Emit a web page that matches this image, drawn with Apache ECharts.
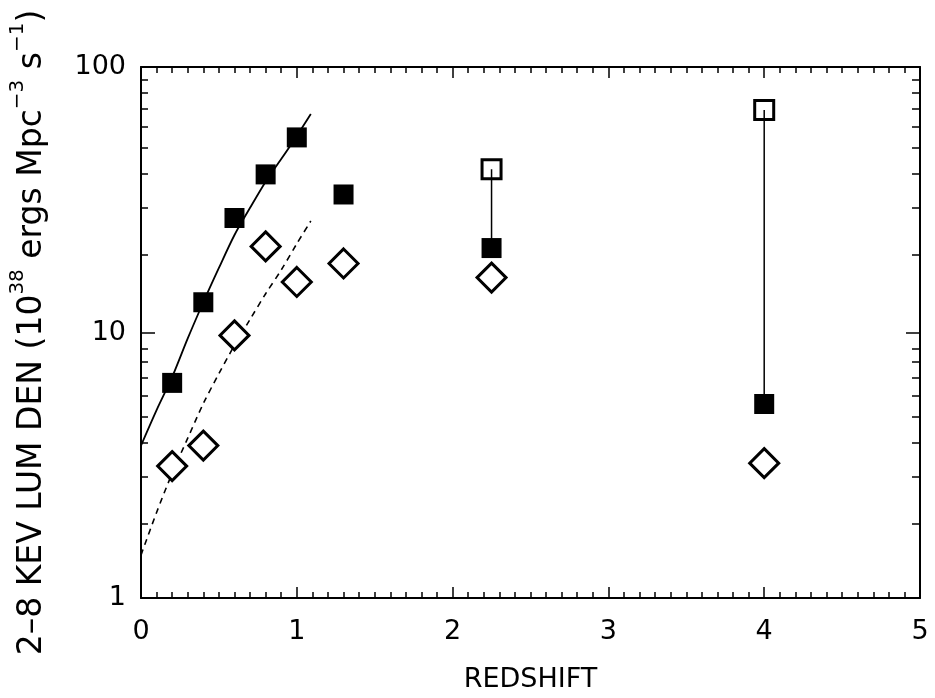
<!DOCTYPE html>
<html>
<head>
<meta charset="utf-8">
<script src="https://cdn.jsdelivr.net/npm/echarts@6/dist/echarts.min.js"></script>
<style>
html,body{margin:0;padding:0;background:#fff;}
#chart{width:935px;height:698px;}
</style>
</head>
<body>
<div id="chart"></div>
<script>
// ---- data ----
const zFilled   = [0.2, 0.4, 0.6, 0.8, 1.0, 1.3, 2.25, 4.0];
const lumFilled = [6.46, 13.0, 27.0, 39.4, 54.3, 33.1, 20.8, 5.38];
const zOpen     = [2.25, 4.0];
const lumOpen   = [41.2, 68.8];
const zDiamond   = [0.2, 0.4, 0.6, 0.8, 1.0, 1.3, 2.25, 4.0];
const lumDiamond = [3.14, 3.75, 9.75, 21.1, 15.5, 18.2, 16.1, 3.22];
const zSolid   = [0, 0.1, 0.2, 0.3, 0.4, 0.5, 0.6, 0.7, 0.8, 0.9, 1.0, 1.09];
const lumSolid = [3.75, 5.1, 6.8, 9.5, 13.0, 17.5, 23.3, 29.5, 37.0, 45.0, 55.0, 66.5];
const zDashed   = [0, 0.1, 0.2, 0.3, 0.4, 0.5, 0.6, 0.7, 0.8, 0.9, 1.0, 1.09];
const lumDashed = [1.45, 2.1, 2.95, 4.0, 5.4, 7.0, 8.95, 11.2, 14.0, 17.2, 21.6, 26.3];
const xTicks = [0, 1, 2, 3, 4, 5];
const yMajorTicks = [1, 10, 100];
const yMinorTicks = [2, 3, 4, 5, 6, 7, 8, 9, 20, 30, 40, 50, 60, 70, 80, 90];

const pairs = (xs, ys) => xs.map((x, i) => [x, ys[i]]);
const FONT = 'DejaVu Sans';

const chart = echarts.init(document.getElementById('chart'), null, {renderer: 'canvas'});

const gridBox = {left: 140, right: 15, top: 67, bottom: 93, containLabel: false};
const tickLine = {color: '#000', width: 1.5};

const baseX = {
  type: 'value', min: xTicks[0], max: xTicks[xTicks.length - 1], interval: 1,
  axisLine: {show: true, onZero: false, lineStyle: {color: '#000', width: 2}},
  axisTick: {show: true, inside: true, length: 11, lineStyle: tickLine},
  minorTick: {show: true, splitNumber: 10, length: 6, lineStyle: tickLine},
  splitLine: {show: false}
};
const baseY = {
  type: 'log', logBase: 10, min: yMajorTicks[0], max: yMajorTicks[yMajorTicks.length - 1],
  axisLine: {show: true, onZero: false, lineStyle: {color: '#000', width: 2}},
  splitLine: {show: false},
  minorTick: {show: false}
};

const option = {
  backgroundColor: '#fff',
  animation: false,
  grid: [Object.assign({}, gridBox), Object.assign({}, gridBox)],
  xAxis: [
    Object.assign({}, baseX, {
      gridIndex: 0, position: 'bottom',
      axisLabel: {show: true, margin: 20, color: '#000', fontFamily: FONT, fontSize: 27},
      name: 'REDSHIFT', nameLocation: 'middle', nameGap: 68,
      nameTextStyle: {color: '#000', fontFamily: FONT, fontSize: 27}
    }),
    Object.assign({}, baseX, {gridIndex: 0, position: 'top', axisLabel: {show: false}}),
    Object.assign({}, baseX, {gridIndex: 1, position: 'bottom', show: false})
  ],
  yAxis: [
    Object.assign({}, baseY, {
      gridIndex: 0, position: 'left',
      axisTick: {show: true, inside: true, length: 14, customValues: yMajorTicks, lineStyle: tickLine},
      axisLabel: {show: true, margin: 15, color: '#000', fontFamily: FONT, fontSize: 27, customValues: yMajorTicks},
      name: '2–8 KEV LUM DEN (10{sup|38} ergs Mpc{sup|−3} s{sup|−1})',
      nameLocation: 'middle', nameGap: 85,
      nameTextStyle: {
        color: '#000', fontFamily: FONT, fontSize: 33, lineHeight: 48,
        rich: {sup: {fontFamily: FONT, fontSize: 20, color: '#000', verticalAlign: 'top', lineHeight: 22}}
      }
    }),
    Object.assign({}, baseY, {
      gridIndex: 0, position: 'right',
      axisTick: {show: true, inside: true, length: 14, customValues: yMajorTicks, lineStyle: tickLine},
      axisLabel: {show: false}
    }),
    Object.assign({}, baseY, {
      gridIndex: 1, position: 'left', axisLine: {show: false},
      axisTick: {show: true, inside: true, length: 8, customValues: yMinorTicks, lineStyle: tickLine},
      axisLabel: {show: false}
    }),
    Object.assign({}, baseY, {
      gridIndex: 1, position: 'right', axisLine: {show: false},
      axisTick: {show: true, inside: true, length: 8, customValues: yMinorTicks, lineStyle: tickLine},
      axisLabel: {show: false}
    })
  ],
  series: [
    {
      type: 'line', name: 'fit filled', data: pairs(zSolid, lumSolid), symbol: 'none', smooth: 0.3,
      lineStyle: {color: '#000', width: 1.8}, z: 2
    },
    {
      type: 'line', name: 'fit open', data: pairs(zDashed, lumDashed), symbol: 'none', smooth: 0.3,
      lineStyle: {color: '#000', width: 1.6, type: [6, 5]}, z: 2
    },
    {
      type: 'line', name: 'range z=2.25', data: [[zOpen[0], lumOpen[0]], [zFilled[6], lumFilled[6]]], symbol: 'none',
      lineStyle: {color: '#000', width: 1.5}, z: 2
    },
    {
      type: 'line', name: 'range z=4', data: [[zOpen[1], lumOpen[1]], [zFilled[7], lumFilled[7]]], symbol: 'none',
      lineStyle: {color: '#000', width: 1.5}, z: 2
    },
    {
      type: 'scatter', name: 'filled squares', data: pairs(zFilled, lumFilled), symbol: 'rect', symbolSize: 20,
      itemStyle: {color: '#000', opacity: 1}, z: 3
    },
    {
      type: 'scatter', name: 'open squares', data: pairs(zOpen, lumOpen), symbol: 'rect', symbolSize: 19,
      itemStyle: {color: 'rgba(0,0,0,0)', borderColor: '#000', borderWidth: 3, opacity: 1}, z: 3
    },
    {
      type: 'scatter', name: 'diamonds', data: pairs(zDiamond, lumDiamond), symbol: 'diamond', symbolSize: 29,
      itemStyle: {color: '#fff', borderColor: '#000', borderWidth: 3, opacity: 1}, z: 3
    }
  ]
};
chart.setOption(option);
</script>
</body>
</html>
